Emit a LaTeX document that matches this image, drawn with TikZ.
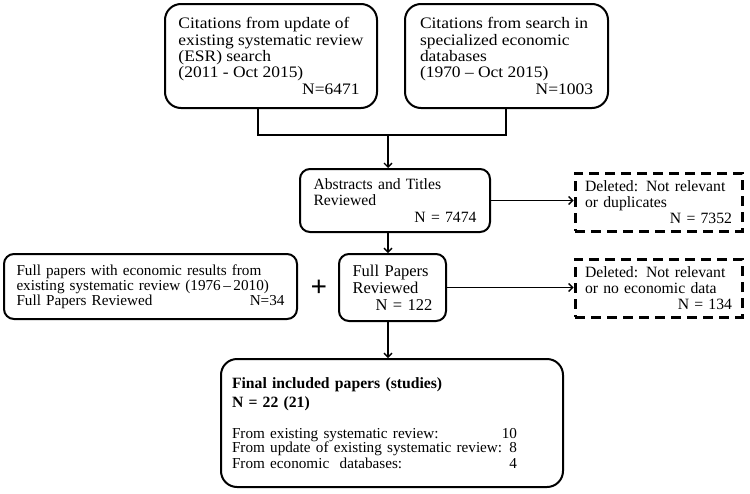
\documentclass[tikz,border=0pt]{standalone}
\usepackage{fontspec}
\setmainfont{Liberation Serif}
\newfontfamily\widefont{Liberation Serif}[Ligatures=TeX, FakeStretch=1.09]
\usepackage{tikz}
\usetikzlibrary{arrows.meta, positioning}

\tikzset{
  txt/.style={font=\fontsize{15.7}{16.3}\selectfont},
  widetxt/.style={font=\widefont\fontsize{16}{16.3}\selectfont},
  roundbox/.style={txt, draw, line width=2pt, rounded corners=10pt,
                   align=left, inner sep=0pt},
  dashbox/.style={txt, draw, line width=3pt, dash pattern=on 10pt off 6pt,
                  align=left, inner sep=0pt, minimum width=167, minimum height=58,
                  text width=147},
  link/.style={line width=1.3pt},
  flow/.style={link, -{Straight Barb[length=4pt,width=8pt]}},
}

\begin{document}
\begin{tikzpicture}[x=1pt, y=-1pt]
\useasboundingbox (0,0) rectangle (750,493);

\node (upd) [roundbox, widetxt, rounded corners=16pt, minimum width=212,
  minimum height=104] at (271,56)
  {Citations from update of\\ existing systematic review\\ (ESR) search\\
   (2011 - Oct 2015)\\ \makebox[181pt][r]{N=6471}};
\node (srch) [roundbox, widetxt, rounded corners=16pt, minimum width=203,
  minimum height=104] at (506.5,56)
  {Citations from search in\\ specialized economic\\ databases\\
   (1970 -- Oct 2015)\\ \makebox[173pt][r]{N=1003}};

\node (abs) [roundbox, minimum width=190, minimum height=63, text width=163]
  at (395,200.5)
  {Abstracts and Titles\\ Reviewed\\ \hspace*{\fill}N = 7474};
\node (del1) [dashbox] at (658.5,202)
  {Deleted: Not relevant\\ or duplicates\\ \hspace*{\fill}N = 7352};

\node (prior) [roundbox, font=\fontsize{15.2}{15}\selectfont, minimum width=293,
  minimum height=65, text width=268] at (150.5,286.5)
  {Full papers with economic results from\\
   existing systematic review (1976\,--\,2010)\\
   Full Papers Reviewed\hfill N=34};
\node (plus) [font=\fontsize{29}{29}\selectfont\bfseries] at (319,288) {+};
\node (full) [roundbox, font=\fontsize{16.5}{17}\selectfont, minimum width=107,
  minimum height=67, text width=80] at (392.5,287.5)
  {Full Papers\\ Reviewed\\ \hspace*{\fill}N = 122};
\node (del2) [dashbox] at (658.5,288)
  {Deleted: Not relevant\\ or no economic data\\ \hspace*{\fill}N = 134};

\node (final) [roundbox, rounded corners=16pt, minimum width=342, minimum height=128,
  text width=320] at (392,423)
  {\textbf{Final included papers (studies)}\\[3pt]
   \textbf{N = 22 (21)}\\[17pt]
   \fontsize{15.2}{14}\selectfont
   \makebox[285pt]{From existing systematic review:\hfill 10}\\
   \makebox[285pt]{From update of existing systematic review:\hfill 8}\\
   \makebox[285pt]{From economic\ \ databases:\hfill 4}};

% joins and arrows
\coordinate (jl) at (258,135);
\coordinate (jr) at (506,135);
\coordinate (jm) at (388,135);
\draw[link] (upd.south -| jl) -- (jl) -- (jr) -- (srch.south -| jr);
\draw[flow] (jm) -- (abs.north -| jm);
\draw[flow] (abs.south -| jm) -- (full.north -| jm);
\draw[flow] (full.south -| jm) -- (final.north -| jm);
\draw[flow] (abs.east) -- (del1.west |- abs.east);
\draw[flow] (full.east) -- (del2.west |- full.east);
\end{tikzpicture}
\end{document}
